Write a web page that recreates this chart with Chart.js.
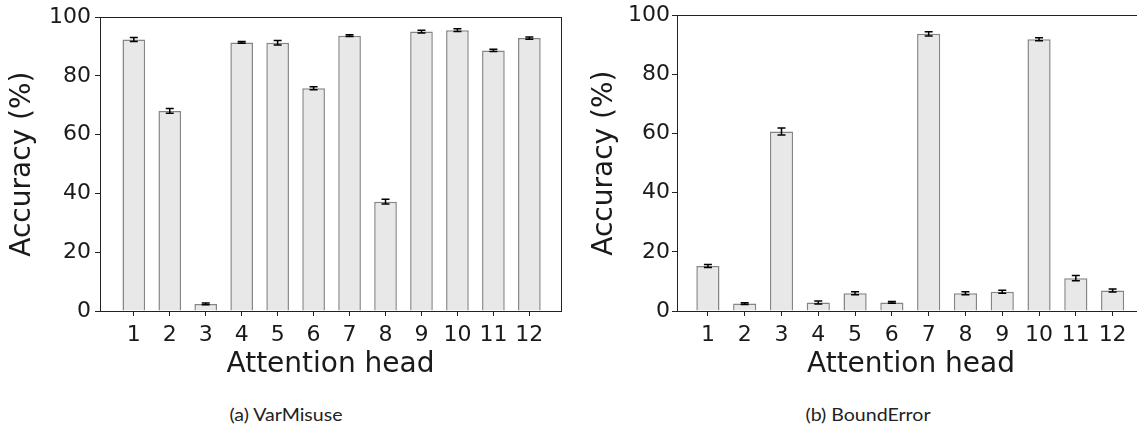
<!DOCTYPE html>
<html><head><meta charset="utf-8">
<script src="https://cdn.jsdelivr.net/npm/chart.js@4"></script>
<style>
html,body{margin:0;padding:0;background:#fff;overflow:hidden;width:1137px;height:429px;position:relative}
#c1{position:absolute;left:0;top:0}
#c2{position:absolute;left:580px;top:0}
.cap{position:absolute;font-family:Lato,sans-serif;font-size:17px;line-height:20px;color:#222;transform:translateX(-50%) scaleX(1.15);white-space:nowrap;top:405px}
</style></head><body>
<canvas id="c1" width="570" height="390"></canvas>
<canvas id="c2" width="580" height="390"></canvas>
<div class="cap" style="left:286px">(a) VarMisuse</div>
<div class="cap" style="left:868px">(b) BoundError</div>
<script>
// ---- data ----
const heads = [1,2,3,4,5,6,7,8,9,10,11,12];
const headLabels = ["1","2","3","4","5","6","7","8","9","10","11","12"];
const yTicks = [0,20,40,60,80,100];
const varMisuseAcc = [92.4,68.1,2.4,91.4,91.3,75.8,93.7,37.2,95.1,95.6,88.7,92.9];
const varMisuseErr = [0.7,0.8,0.3,0.3,0.8,0.5,0.3,0.8,0.5,0.5,0.4,0.4];
const boundErrorAcc = [15.2,2.5,60.7,2.9,6.0,2.9,93.7,6.0,6.5,91.9,11.1,6.9];
const boundErrorErr = [0.5,0.3,1.2,0.5,0.5,0.3,0.7,0.5,0.5,0.5,0.9,0.5];
const yTitle = "Accuracy (%)";
const xTitle = "Attention head";

const TXT = '#1a1a1a';
const FONT = 'DejaVu Sans';

const errPlugin = {
  id: 'errbars',
  afterDatasetsDraw(chart, args, opts) {
    const {ctx, chartArea, scales: {x, y}} = chart;
    ctx.save();
    ctx.strokeStyle = '#000';
    ctx.lineWidth = 1.5;
    opts.cats.forEach((c, i) => {
      const px = x.getPixelForValue(c);
      const yl = y.getPixelForValue(opts.values[i] - opts.errors[i]);
      const yh = y.getPixelForValue(opts.values[i] + opts.errors[i]);
      ctx.beginPath();
      ctx.moveTo(px, yl); ctx.lineTo(px, yh);
      ctx.moveTo(px - 4, yl); ctx.lineTo(px + 4, yl);
      ctx.moveTo(px - 4, yh); ctx.lineTo(px + 4, yh);
      ctx.stroke();
    });
    // frame (spines)
    ctx.strokeStyle = '#222';
    ctx.lineWidth = 1;
    ctx.strokeRect(Math.round(chartArea.left) + 0.5, Math.round(chartArea.top) + 0.5,
      Math.round(chartArea.right - chartArea.left), Math.round(chartArea.bottom - chartArea.top));
    ctx.restore();
  }
};

function makeChart(id, values, errors, cfg) {
  return new Chart(document.getElementById(id), {
    type: 'bar',
    data: {
      datasets: [{
        data: heads.map((h, i) => ({x: h, y: values[i]})),
        backgroundColor: '#e8e8e8',
        borderColor: '#858585',
        borderWidth: 1.5,
        barPercentage: 0.63,
        categoryPercentage: 1
      }]
    },
    options: {
      responsive: false,
      animation: false,
      layout: {padding: {top: 13, right: cfg.padRight, left: 0, bottom: 0}},
      plugins: {
        legend: {display: false},
        tooltip: {enabled: false},
        errbars: {cats: heads, values: values, errors: errors}
      },
      scales: {
        x: {
          type: 'linear',
          offset: false,
          min: cfg.xmin, max: cfg.xmax,
          afterBuildTicks: s => { s.ticks = heads.map(v => ({value: v})); },
          afterFit: s => { s.height = 79; },
          grid: {offset: false, drawOnChartArea: false, tickLength: 5, tickColor: '#222', lineWidth: 1},
          border: {display: true, color: '#222', width: 1},
          ticks: {
            autoSkip: false, maxRotation: 0, minRotation: 0, padding: 6,
            color: TXT, font: {family: FONT, size: 22},
            callback: (v, i) => headLabels[i]
          },
          title: {display: true, text: xTitle, color: TXT, font: {family: FONT, size: 28}, padding: {top: 0, bottom: 8}}
        },
        y: {
          min: 0, max: 100,
          afterBuildTicks: s => { s.ticks = yTicks.map(v => ({value: v})); },
          afterFit: s => { s.width = cfg.yWidth; },
          grid: {drawOnChartArea: false, tickLength: 5, tickColor: '#222', lineWidth: 1},
          border: {display: true, color: '#222', width: 1},
          ticks: {padding: cfg.yPad, color: TXT, font: {family: FONT, size: 22}},
          title: {display: true, text: yTitle, color: TXT, font: {family: FONT, size: 28}, padding: {top: cfg.yTitlePad, bottom: 0}}
        }
      }
    },
    plugins: [errPlugin]
  });
}

makeChart('c1', varMisuseAcc, varMisuseErr, {padRight: 9, xmin: 0.06, xmax: 12.88, yWidth: 100, yPad: 4, yTitlePad: 6});
makeChart('c2', boundErrorAcc, boundErrorErr, {padRight: 15, xmin: 0.16, xmax: 12.88, yWidth: 97, yPad: 2, yTitlePad: 8});
</script>
</body></html>
